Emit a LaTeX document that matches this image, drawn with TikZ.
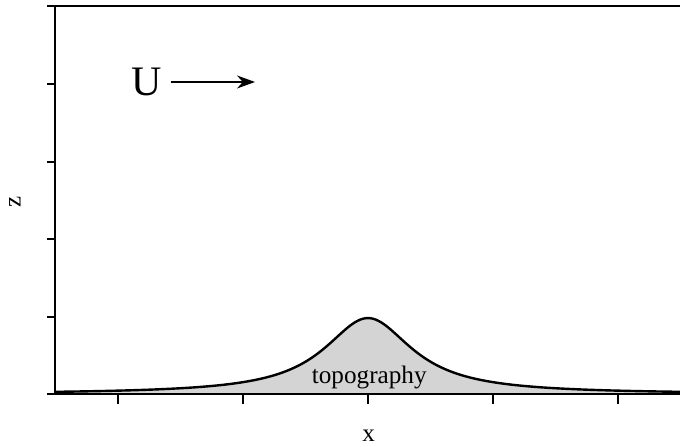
\documentclass[tikz,border=0pt]{standalone}
\usepackage{fontspec}
\setmainfont{Liberation Serif}
\usetikzlibrary{arrows.meta, positioning}
\tikzset{
  frame/.style  ={draw=black, line width=1pt, line cap=rect},
  tick/.style   ={draw=black, line width=1pt},
  topo/.style   ={draw=black, line width=1.2pt},
  label/.style  ={font=\fontsize{12.5pt}{14pt}\selectfont, inner sep=0pt},
  flowarrow/.style={-{Stealth[length=9pt,width=6.5pt]}, draw=black, line width=0.75pt},
}
\begin{document}
\begin{tikzpicture}[x=31.25pt, y=38.75pt]
\useasboundingbox (-5.888,-0.671) rectangle (4.992,5.084);

% ---- topography ----
\fill[black!17] plot[domain=-5:5, samples=200, smooth] (\x, {0.98/(1+(\x/0.86)^2)}) -- (5,0) -- (-5,0) -- cycle;
\draw[topo] plot[domain=-5:5, samples=200, smooth] (\x, {0.98/(1+(\x/0.86)^2)});
\node[label, font=\fontsize{12.6pt}{14pt}\selectfont, anchor=base] (topolbl) at (0.02,0.13) {topography};

% ---- axes ----
\draw[frame] (5,0) -- (-5,0) -- (-5,5) -- (5,5);
\foreach \z in {0,...,5}
  \draw[tick] (-5,\z) -- (-5.128,\z);
\foreach \x in {-4,-2,0,2,4}
  \draw[tick] (\x,0) -- (\x,-0.129);

\node[label] (xlbl) at (0.01,-0.542) {x};
\node[label, rotate=90] (zlbl) at (-5.648,2.477) {z};

% ---- mean flow ----
\node[inner sep=0pt, font=\fontsize{21pt}{23pt}\selectfont] (flow) at (-3.536,4.026) {U};
\coordinate[right=4pt of flow.east] (flowstart);
\coordinate (flowend) at (-1.808,4.026);
\draw[flowarrow] (flowstart) -- (flowend);

\end{tikzpicture}
\end{document}
